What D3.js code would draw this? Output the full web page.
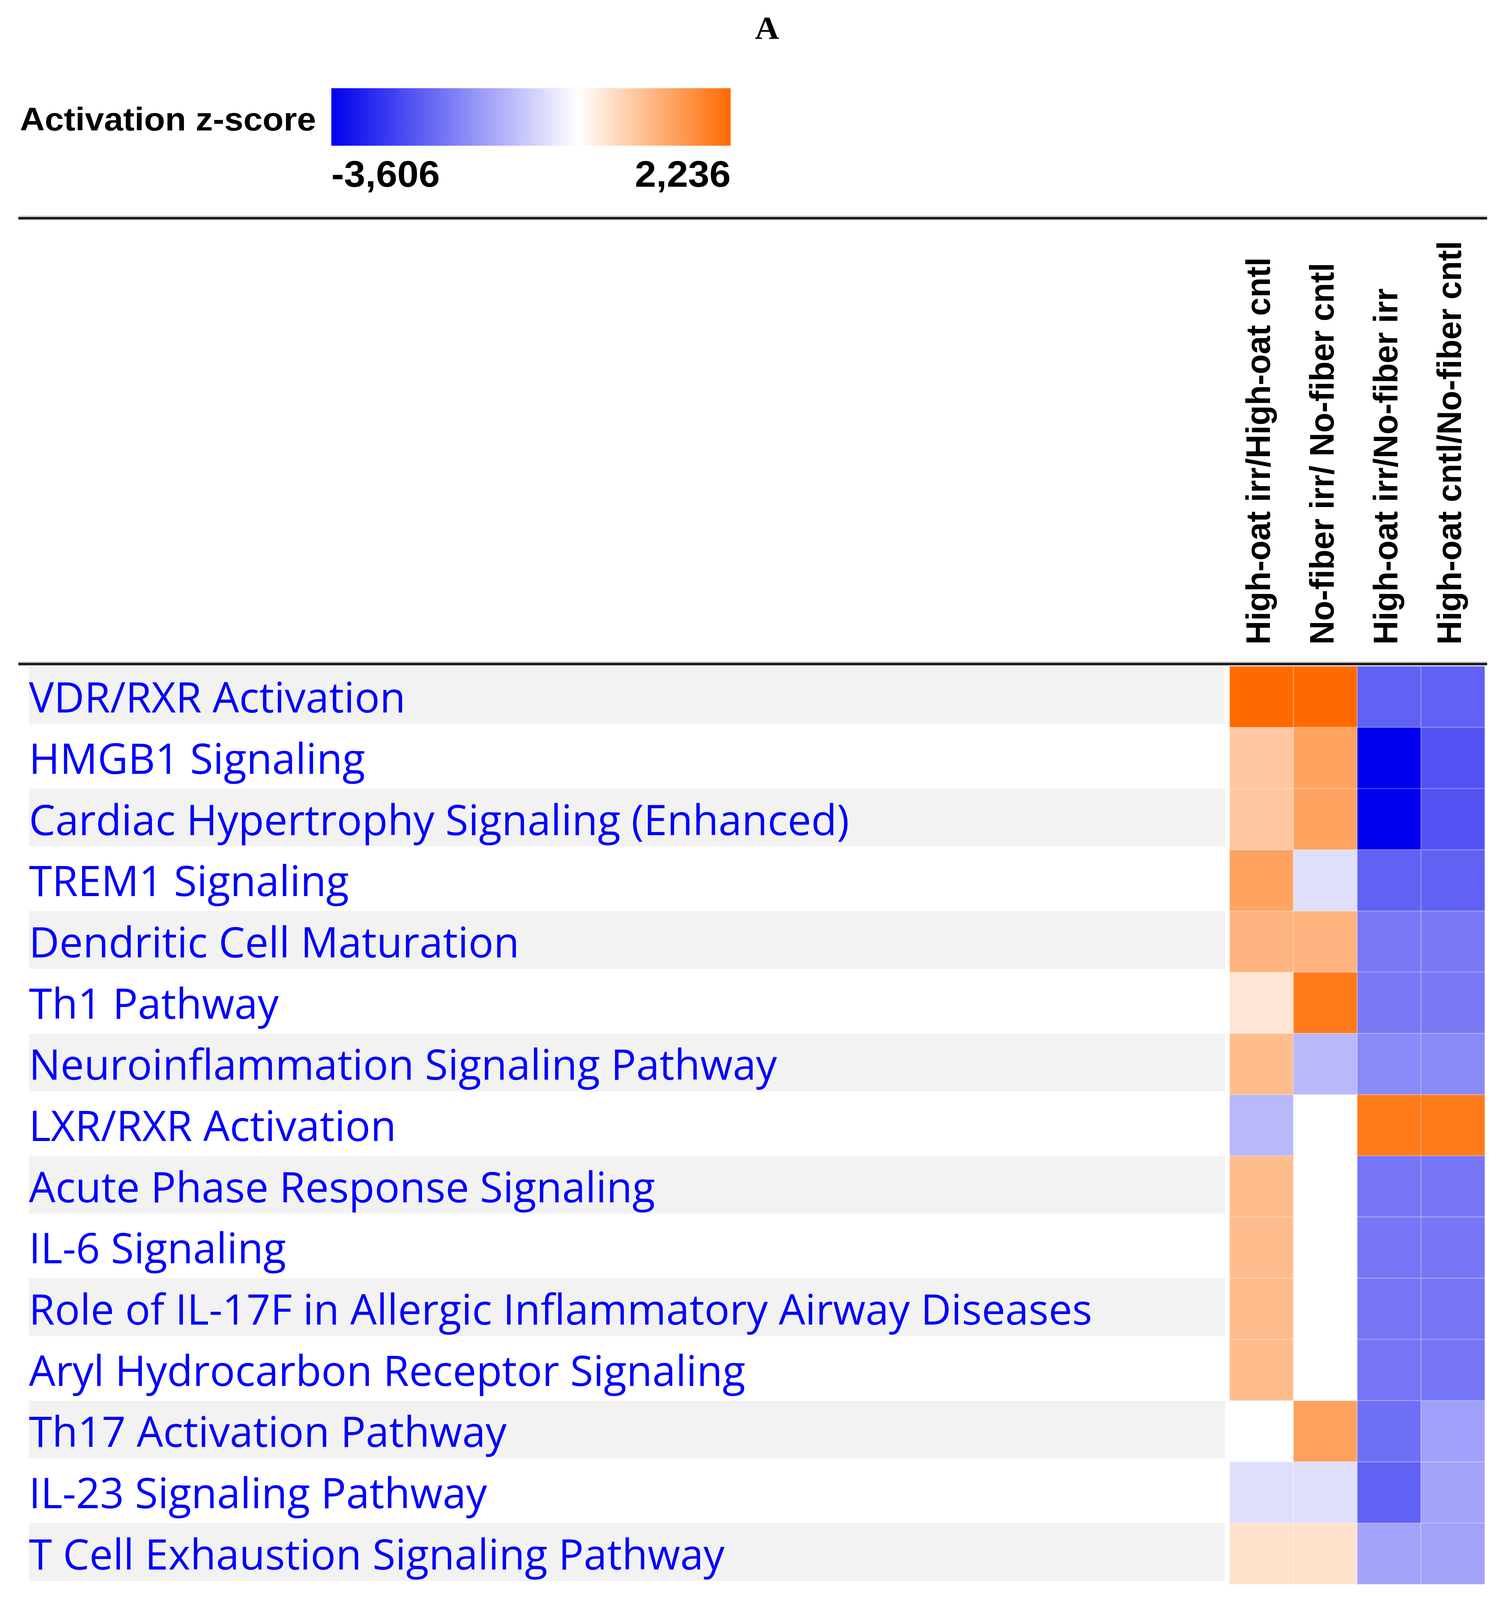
<!DOCTYPE html>
<html>
<head>
<meta charset="utf-8">
<script src="https://cdn.jsdelivr.net/npm/d3@7"></script>
<style>
  html, body { margin: 0; padding: 0; background: #fff; overflow: hidden; }
  svg { display: block; width: 100vw; height: 100vh; }
</style>
</head>
<body>
<svg id="heatmap"></svg>
<script>
// pathway rows, top to bottom
const pathways = [
    "VDR/RXR Activation",
    "HMGB1 Signaling",
    "Cardiac Hypertrophy Signaling (Enhanced)",
    "TREM1 Signaling",
    "Dendritic Cell Maturation",
    "Th1 Pathway",
    "Neuroinflammation Signaling Pathway",
    "LXR/RXR Activation",
    "Acute Phase Response Signaling",
    "IL-6 Signaling",
    "Role of IL-17F in Allergic Inflammatory Airway Diseases",
    "Aryl Hydrocarbon Receptor Signaling",
    "Th17 Activation Pathway",
    "IL-23 Signaling Pathway",
    "T Cell Exhaustion Signaling Pathway"
];

// comparison columns, left to right
const comparisons = [
    "High-oat irr/High-oat cntl",
    "No-fiber irr/ No-fiber cntl",
    "High-oat irr/No-fiber irr",
    "High-oat cntl/No-fiber cntl"
];

// activation z-scores per comparison (null = no score)
const zHighOatIrrVsCntl  = [2.236, 0.832, 0.832, 1.387, 1.134, 0.378, 1.0, -1.0, 1.0, 1.0, 1.0, 1.0, null, -0.447, 0.447];
const zNoFiberIrrVsCntl  = [2.236, 1.387, 1.387, -0.447, 1.134, 2.0, -1.0, null, null, null, null, null, 1.414, -0.447, 0.447];
const zIrrOatVsNoFiber   = [-2.236, -3.606, -3.606, -2.236, -1.897, -1.897, -1.667, 2.0, -1.941, -1.941, -1.941, -1.941, -2.04, -2.236, -1.311];
const zCntlOatVsNoFiber  = [-2.236, -2.449, -2.449, -2.236, -1.897, -1.897, -1.667, 2.0, -1.941, -1.941, -1.941, -1.941, -1.342, -1.3, -1.311];

// legend range
const zMin = -3.606;
const zMax = 2.236;
const legendTitle = "Activation z-score";
const panelLetter = "A";

/**
 * Basic sizes
 */
const width = 3844;
const height = 4282;
const rowTop = 1783;
const rowHeight = 163.8;
const cellLeft = 3147;
const cellRight = 3800;
const lineLeft = 47;
const lineRight = 3806;

// drawn in figure pixels, stretched to whatever the window gives
const svg = d3.select("#heatmap")
    .attr("viewBox", `0 0 ${width} ${height}`)
    .attr("preserveAspectRatio", "none");

const columns = [zHighOatIrrVsCntl, zNoFiberIrrVsCntl, zIrrOatVsNoFiber, zCntlOatVsNoFiber];

const cells = [];
pathways.forEach((p, i) => {
    comparisons.forEach((c, j) => {
        cells.push({pathway: p, comparison: c, z: columns[j][i]});
    });
});

const yScale = d3.scaleBand()
    .domain(pathways)
    .range([rowTop, rowTop + rowHeight * pathways.length]);

const xScale = d3.scaleBand()
    .domain(comparisons)
    .range([cellLeft, cellRight]);

const color = d3.scaleLinear()
    .domain([zMin, 0, zMax])
    .range(["#0000ee", "#ffffff", "#ff6a00"]);

// comma decimal, as in the figure
const fmt = d3.formatLocale({decimal: ",", thousands: ".", grouping: [3], currency: ["", ""], minus: "-"}).format(".3f");

/**
 * Panel letter
 */
svg.append("text")
    .attr("x", 1963)
    .attr("y", 104)
    .attr("text-anchor", "middle")
    .attr("font-family", "Liberation Serif, Times New Roman, serif")
    .attr("font-weight", "bold")
    .attr("font-size", 86)
    .text(panelLetter);

/**
 * Legend
 */
const legendScale = d3.scaleLinear().domain([zMin, zMax]).range([848, 1870]);

const grad = svg.append("defs")
    .append("linearGradient")
    .attr("id", "zgrad")
    .attr("x1", "0%").attr("x2", "100%")
    .attr("y1", "0%").attr("y2", "0%");

color.domain().forEach(v => {
    grad.append("stop")
        .attr("offset", ((v - zMin) / (zMax - zMin) * 100) + "%")
        .attr("stop-color", color(v));
});

svg.append("rect")
    .attr("x", legendScale(zMin))
    .attr("y", 236)
    .attr("width", legendScale(zMax) - legendScale(zMin))
    .attr("height", 154)
    .attr("fill", "url(#zgrad)");

svg.append("text")
    .attr("x", 51)
    .attr("y", 349)
    .attr("font-family", "Liberation Sans, Arial, sans-serif")
    .attr("font-weight", "bold")
    .attr("font-size", 88)
    .attr("fill", "#000")
    .text(legendTitle);

svg.selectAll(".legend-tick")
    .data([zMin, zMax])
    .enter()
    .append("text")
    .attr("class", "legend-tick")
    .attr("x", d => legendScale(d))
    .attr("y", 500)
    .attr("text-anchor", (d, i) => i === 0 ? "start" : "end")
    .attr("font-family", "Liberation Sans, Arial, sans-serif")
    .attr("font-weight", "bold")
    .attr("font-size", 98)
    .attr("fill", "#000")
    .text(d => fmt(d));

/**
 * Separator lines
 */
function drawRule(y) {
    svg.append("line")
        .attr("x1", lineLeft).attr("x2", lineRight)
        .attr("y1", y - 6).attr("y2", y - 6)
        .attr("stroke", "#d6d6d6")
        .attr("stroke-width", 3);
    svg.append("line")
        .attr("x1", lineLeft).attr("x2", lineRight)
        .attr("y1", y).attr("y2", y)
        .attr("stroke", "#1c1c1c")
        .attr("stroke-width", 7);
}
drawRule(584);
drawRule(1777);

/**
 * Column headers (rotated)
 */
svg.selectAll(".col-label")
    .data(comparisons)
    .enter()
    .append("text")
    .attr("class", "col-label")
    .attr("transform", d => `translate(${xScale(d) + xScale.bandwidth() / 2 + 21}, 1725) rotate(-90)`)
    .attr("font-family", "Liberation Sans, Arial, sans-serif")
    .attr("font-weight", "bold")
    .attr("font-size", 88)
    .attr("fill", "#000")
    .text(d => d);

/**
 * Row stripes and labels
 */
svg.selectAll(".stripe")
    .data(pathways.filter((d, i) => i % 2 === 0))
    .enter()
    .append("rect")
    .attr("class", "stripe")
    .attr("x", 74)
    .attr("y", d => yScale(d))
    .attr("width", 3135 - 74)
    .attr("height", yScale.bandwidth() - 9)
    .attr("fill", "#f2f2f2");

const rowLabels = svg.selectAll(".row-label")
    .data(pathways)
    .enter()
    .append("text")
    .attr("class", "row-label")
    .attr("font-family", "Open Sans, Noto Sans, sans-serif")
    .attr("font-size", 112)
    .attr("fill", "#0000ff")
    .text(d => d);

// squeeze the labels a little so the longest one ends where it does in the figure
const longest = d3.max(rowLabels.nodes(), n => n.getComputedTextLength());
const squeeze = Math.min(1, (2795 - 74) / longest);
rowLabels.attr("transform", d => `translate(74, ${yScale(d) + 124}) scale(${squeeze}, 1)`);

/**
 * Heatmap cells
 */
svg.selectAll(".cell")
    .data(cells)
    .enter()
    .append("rect")
    .attr("class", "cell")
    .attr("x", d => xScale(d.comparison))
    .attr("y", d => yScale(d.pathway))
    .attr("width", xScale.bandwidth())
    .attr("height", yScale.bandwidth())
    .attr("fill", d => d.z === null ? "#ffffff" : color(d.z))
    .attr("stroke", "#ffffff")
    .attr("stroke-opacity", 0.18)
    .attr("stroke-width", 3);
</script>
</body>
</html>
